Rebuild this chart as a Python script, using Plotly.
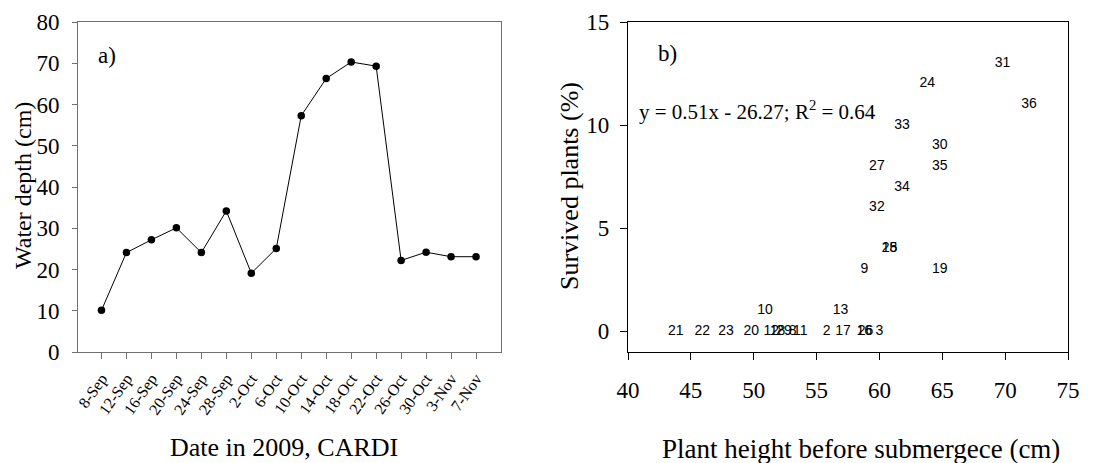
import plotly.graph_objects as go

# ---- Panel a) data ----
dates = ["8-Sep", "12-Sep", "16-Sep", "20-Sep", "24-Sep", "28-Sep", "2-Oct", "6-Oct",
         "10-Oct", "14-Oct", "18-Oct", "22-Oct", "26-Oct", "30-Oct", "3-Nov", "7-Nov"]
depth = [10.1, 24.1, 27.2, 30.1, 24.1, 34.2, 19.1, 25.1,
         57.3, 66.3, 70.3, 69.3, 22.2, 24.2, 23.1, 23.1]

# ---- Panel b) data ----
lab = ["21", "22", "23", "20", "10", "12", "18", "29", "8", "11", "2", "13", "17",
       "16", "26", "3", "9", "19", "15", "28", "32", "34", "27", "35", "30", "33",
       "36", "24", "31"]
height = [43.8, 45.9, 47.8, 49.8, 50.9, 51.4, 51.9, 52.4, 53.1, 53.7, 55.8, 56.9, 57.1,
          58.8, 58.9, 60.0, 58.8, 64.8, 60.8, 60.8, 59.8, 61.8, 59.8, 64.8, 64.8, 61.8,
          71.9, 63.8, 69.8]
survived = [0, 0, 0, 0, 1, 0, 0, 0, 0, 0, 0, 1, 0,
            0, 0, 0, 3, 3, 4, 4, 6, 7, 8, 8, 9, 10,
            11, 12, 13]

# page body has an 8px margin: size the figure to fill the rest of the window
OFF = 8
W, H = 1097 - OFF, 463 - OFF
def px(x): return (x - OFF) / W
def py(y): return 1 - (y - OFF) / H

SERIF = "Liberation Serif, Times New Roman, serif"
SANS = "Liberation Sans, Arial, sans-serif"

fig = go.Figure()
fig.add_trace(go.Scatter(x=dates, y=depth, mode="lines+markers",
                         line=dict(color="black", width=1),
                         marker=dict(color="black", size=7.5),
                         xaxis="x", yaxis="y", showlegend=False))
fig.add_trace(go.Scatter(x=height, y=survived, mode="text", text=lab,
                         textposition="middle center",
                         textfont=dict(family=SANS, size=14, color="black"),
                         xaxis="x2", yaxis="y2", showlegend=False))

ydom = [py(352), py(22)]
fig.update_layout(
    template="none",
    width=W, height=H, margin=dict(l=0, r=0, t=0, b=0, autoexpand=False),
    paper_bgcolor="white", plot_bgcolor="white",
    xaxis=dict(domain=[px(78), px(501)], type="category", range=[-0.94, 16.0],
               automargin=False,
               showline=True, linecolor="#707070", linewidth=1, mirror=True,
               ticks="outside", ticklen=6, tickcolor="#707070", tickangle=-55,
               ticklabelstandoff=4,
               tickfont=dict(family=SERIF, size=16, color="black"),
               showgrid=False, zeroline=False, fixedrange=True),
    yaxis=dict(domain=ydom, range=[0, 80], dtick=10, automargin=False,
               showline=True, linecolor="#707070", linewidth=1, mirror=True,
               ticks="outside", ticklen=5, tickcolor="#707070",
               ticklabelstandoff=8,
               tickfont=dict(family=SERIF, size=23, color="black"),
               showgrid=False, zeroline=False, fixedrange=True),
    xaxis2=dict(domain=[px(628), px(1068)], range=[40, 75], dtick=5, automargin=False,
                showline=True, linecolor="black", linewidth=1.2, mirror=True,
                ticks="outside", ticklen=7, tickcolor="black",
                ticklabelstandoff=10,
                tickfont=dict(family=SERIF, size=23, color="black"),
                showgrid=False, zeroline=False, anchor="y2", fixedrange=True),
    yaxis2=dict(domain=ydom, range=[-1, 15], dtick=5, automargin=False,
                showline=True, linecolor="black", linewidth=1.2, mirror=True,
                ticks="outside", ticklen=7, tickcolor="black",
                ticklabelstandoff=6,
                tickfont=dict(family=SERIF, size=23, color="black"),
                showgrid=False, zeroline=False, anchor="x2", fixedrange=True),
)

def ann(text, x, y, size, xanchor="center", angle=0):
    fig.add_annotation(text=text, x=px(x), y=py(y), xref="paper", yref="paper",
                       showarrow=False, xanchor=xanchor, yanchor="middle",
                       textangle=angle,
                       font=dict(family=SERIF, size=size, color="black"))

ann("Water depth (cm)", 23, 186, 24, angle=-90)
ann("Date in 2009, CARDI", 284, 447, 26)
ann("Survived plants (%)", 570, 186, 26, angle=-90)
ann("Plant height before submergece (cm)", 861, 449, 27)
ann("a)", 107, 56, 23)
ann("b)", 667, 54, 23)
ann("y = 0.51x - 26.27; R<sup>2</sup> = 0.64", 637, 111, 21, xanchor="left")

fig.write_html("out.html")
